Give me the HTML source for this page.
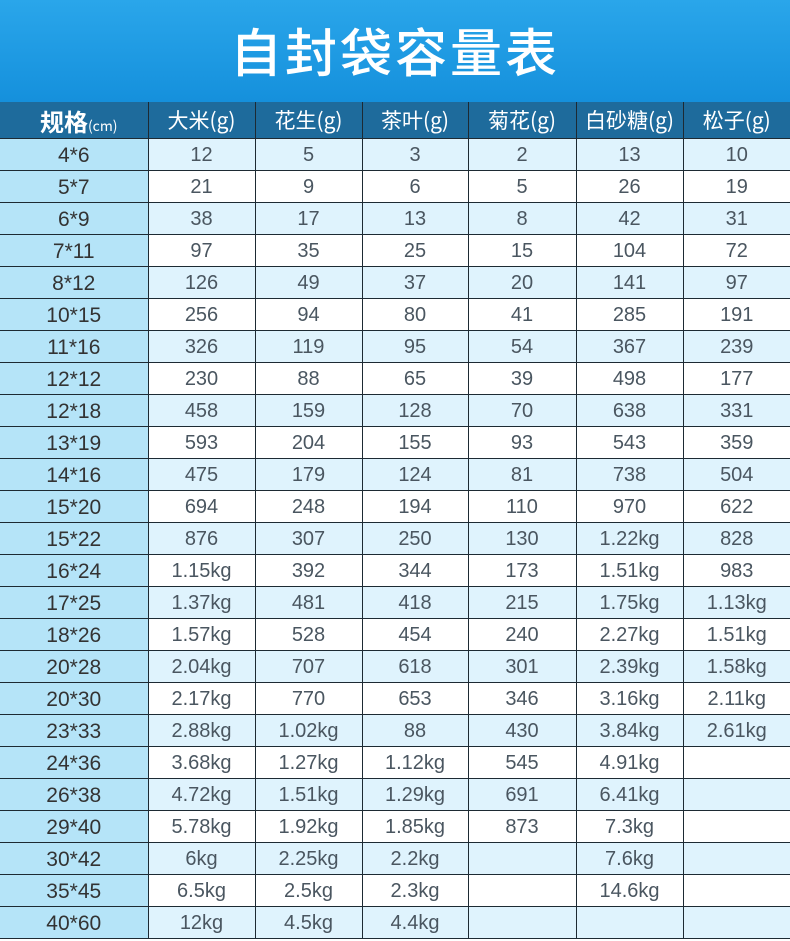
<!DOCTYPE html><html><head><meta charset="utf-8"><style>
body{margin:0;width:790px;height:941px;overflow:hidden;background:#fff;font-family:"Liberation Sans","Noto Sans CJK SC",sans-serif}
.t{height:102px;background:linear-gradient(180deg,#2aa6ea,#1590dc);color:#fff;font-size:52px;text-align:center;line-height:100px;letter-spacing:3px;font-family:"Noto Sans CJK SC",sans-serif;font-weight:500}
table{border-collapse:collapse;width:790px;table-layout:fixed}
td{border:1.5px solid #1d2a33;text-align:center;color:#4a5660;font-size:20px;height:29px;padding:0;padding-top:2px}
tr.h td{background:#1e6b9c;color:#fff;font-size:21px;height:36px;font-family:"Noto Sans CJK SC",sans-serif;border-top:none;padding-top:0}
td.f{background:#b5e4f8;font-size:21px;color:#333}
tr:nth-child(even) td{background:#dff3fd}
tr:nth-child(even) td.f,tr:nth-child(odd) td.f{background:#b5e4f8}
tr.h td.f{background:#1e6b9c;color:#fff;font-weight:bold;font-size:24px;padding-left:10px}
td:first-child{border-left:none}td:last-child{border-right:none}
</style></head><body>
<div class="t">自封袋容量表</div>
<table><colgroup><col style="width:148px"><col style="width:107px"><col style="width:107px"><col style="width:106px"><col style="width:108px"><col style="width:107px"><col style="width:107px"></colgroup>
<tr class="h"><td class="f">规格<span style="font-size:14px;font-weight:normal">(cm)</span></td><td>大米(g)</td><td>花生(g)</td><td>茶叶(g)</td><td>菊花(g)</td><td>白砂糖(g)</td><td>松子(g)</td></tr>
<tr><td class="f">4*6</td><td>12</td><td>5</td><td>3</td><td>2</td><td>13</td><td>10</td></tr>
<tr><td class="f">5*7</td><td>21</td><td>9</td><td>6</td><td>5</td><td>26</td><td>19</td></tr>
<tr><td class="f">6*9</td><td>38</td><td>17</td><td>13</td><td>8</td><td>42</td><td>31</td></tr>
<tr><td class="f">7*11</td><td>97</td><td>35</td><td>25</td><td>15</td><td>104</td><td>72</td></tr>
<tr><td class="f">8*12</td><td>126</td><td>49</td><td>37</td><td>20</td><td>141</td><td>97</td></tr>
<tr><td class="f">10*15</td><td>256</td><td>94</td><td>80</td><td>41</td><td>285</td><td>191</td></tr>
<tr><td class="f">11*16</td><td>326</td><td>119</td><td>95</td><td>54</td><td>367</td><td>239</td></tr>
<tr><td class="f">12*12</td><td>230</td><td>88</td><td>65</td><td>39</td><td>498</td><td>177</td></tr>
<tr><td class="f">12*18</td><td>458</td><td>159</td><td>128</td><td>70</td><td>638</td><td>331</td></tr>
<tr><td class="f">13*19</td><td>593</td><td>204</td><td>155</td><td>93</td><td>543</td><td>359</td></tr>
<tr><td class="f">14*16</td><td>475</td><td>179</td><td>124</td><td>81</td><td>738</td><td>504</td></tr>
<tr><td class="f">15*20</td><td>694</td><td>248</td><td>194</td><td>110</td><td>970</td><td>622</td></tr>
<tr><td class="f">15*22</td><td>876</td><td>307</td><td>250</td><td>130</td><td>1.22kg</td><td>828</td></tr>
<tr><td class="f">16*24</td><td>1.15kg</td><td>392</td><td>344</td><td>173</td><td>1.51kg</td><td>983</td></tr>
<tr><td class="f">17*25</td><td>1.37kg</td><td>481</td><td>418</td><td>215</td><td>1.75kg</td><td>1.13kg</td></tr>
<tr><td class="f">18*26</td><td>1.57kg</td><td>528</td><td>454</td><td>240</td><td>2.27kg</td><td>1.51kg</td></tr>
<tr><td class="f">20*28</td><td>2.04kg</td><td>707</td><td>618</td><td>301</td><td>2.39kg</td><td>1.58kg</td></tr>
<tr><td class="f">20*30</td><td>2.17kg</td><td>770</td><td>653</td><td>346</td><td>3.16kg</td><td>2.11kg</td></tr>
<tr><td class="f">23*33</td><td>2.88kg</td><td>1.02kg</td><td>88</td><td>430</td><td>3.84kg</td><td>2.61kg</td></tr>
<tr><td class="f">24*36</td><td>3.68kg</td><td>1.27kg</td><td>1.12kg</td><td>545</td><td>4.91kg</td><td></td></tr>
<tr><td class="f">26*38</td><td>4.72kg</td><td>1.51kg</td><td>1.29kg</td><td>691</td><td>6.41kg</td><td></td></tr>
<tr><td class="f">29*40</td><td>5.78kg</td><td>1.92kg</td><td>1.85kg</td><td>873</td><td>7.3kg</td><td></td></tr>
<tr><td class="f">30*42</td><td>6kg</td><td>2.25kg</td><td>2.2kg</td><td></td><td>7.6kg</td><td></td></tr>
<tr><td class="f">35*45</td><td>6.5kg</td><td>2.5kg</td><td>2.3kg</td><td></td><td>14.6kg</td><td></td></tr>
<tr><td class="f">40*60</td><td>12kg</td><td>4.5kg</td><td>4.4kg</td><td></td><td></td><td></td></tr>
</table></body></html>
